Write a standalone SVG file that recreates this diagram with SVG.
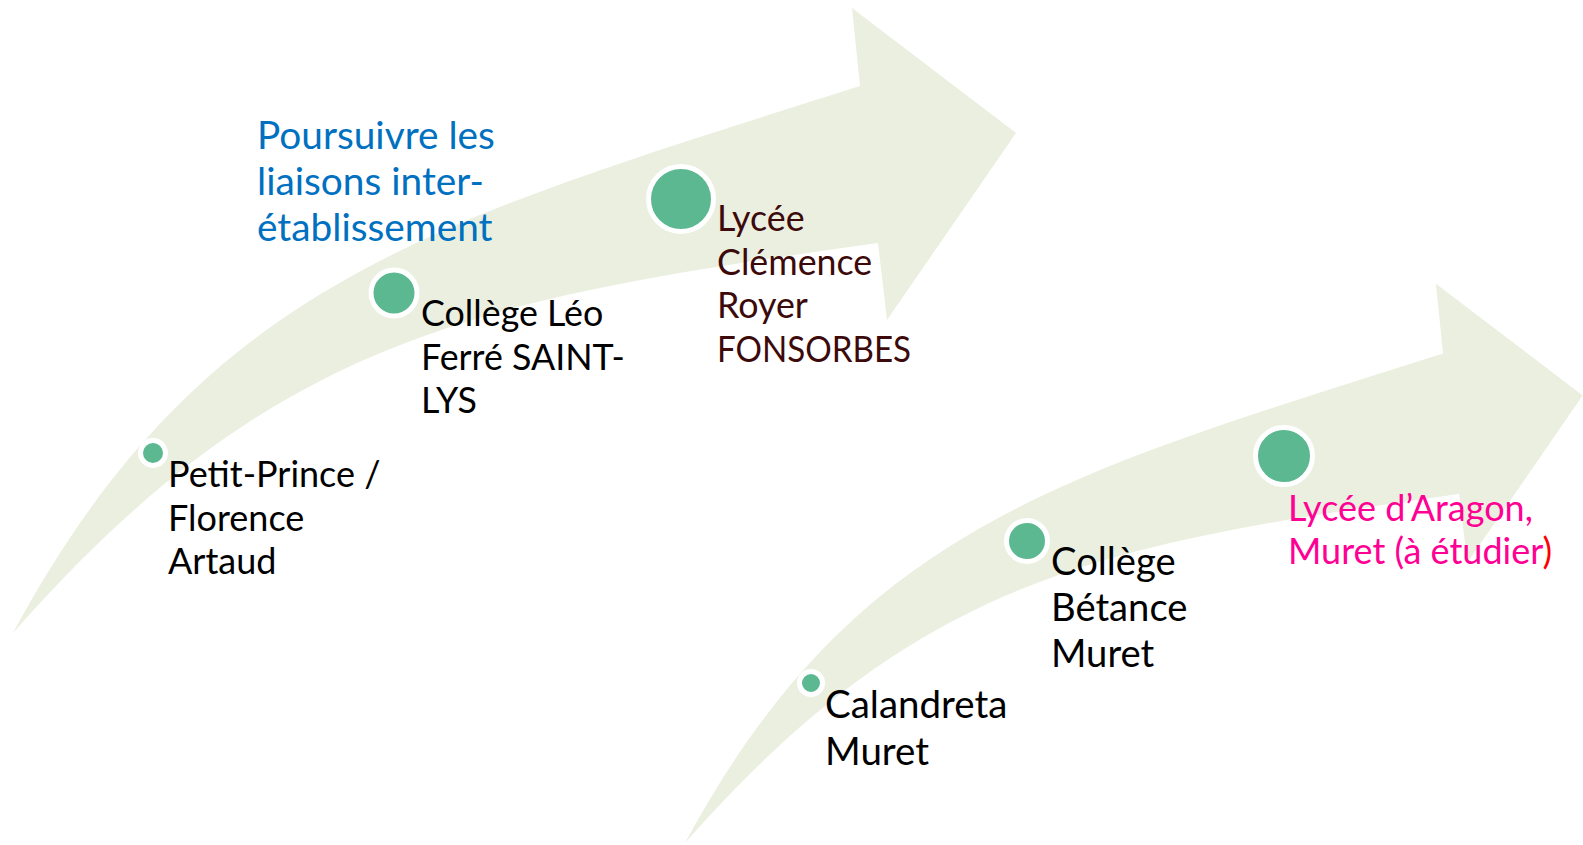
<svg xmlns="http://www.w3.org/2000/svg" xmlns:xlink="http://www.w3.org/1999/xlink" width="1583" height="845" viewBox="0 0 1583 845">
  <defs>
    <style>
      .band { fill: #EBEFDF; stroke: none; }
      .dot { fill: #5CB891; stroke: #FFFFFF; stroke-width: 5; }
      .lbl { font-family: Lato, "Liberation Sans", sans-serif; fill: #000000; }
      .blue { fill: #0070C0; }
      .brown { fill: #3C0A0A; }
      .pink { fill: #FF0094; }
      .red { fill: #FF0000; }
    </style>
    <path id="arrowShape" d="M13,633 C203,281 432,222 860,86 L852,8 L1016,133 L887,320 L878,243 C482,299 277,333 13,633 Z"/>
  </defs>
  <rect width="1583" height="845" fill="#FFFFFF"/>

  <g id="connectors">
    <use xlink:href="#arrowShape" class="band"/>
    <use xlink:href="#arrowShape" class="band" transform="translate(685,843) scale(0.895) translate(-13,-633)"/>
  </g>

  <g id="title">
    <text class="lbl blue" font-size="38.8">
      <tspan x="257" y="148.5">Poursuivre les</tspan>
      <tspan x="257" y="194.5">liaisons inter-</tspan>
      <tspan x="257" y="240.5">établissement</tspan>
    </text>
  </g>

  <g id="node-petit-prince">
    <circle class="dot" cx="153" cy="453" r="12.5"/>
    <text class="lbl" font-size="36">
      <tspan x="168" y="487">Petit-Prince /</tspan>
      <tspan x="168" y="530.5">Florence</tspan>
      <tspan x="168" y="574">Artaud</tspan>
    </text>
  </g>

  <g id="node-college-leo">
    <circle class="dot" cx="394" cy="293" r="23"/>
    <text class="lbl" font-size="35.8">
      <tspan x="421" y="326">Collège Léo</tspan>
      <tspan x="421" y="370">Ferré SAINT-</tspan>
      <tspan x="421" y="413">LYS</tspan>
    </text>
  </g>

  <g id="node-lycee-clemence">
    <circle class="dot" cx="681" cy="199" r="32.5"/>
    <text class="lbl brown" font-size="35.8">
      <tspan x="717" y="231">Lycée</tspan>
      <tspan x="717" y="274.5">Clémence</tspan>
      <tspan x="717" y="318">Royer</tspan>
      <tspan x="717" y="361.5" textLength="194" lengthAdjust="spacingAndGlyphs">FONSORBES</tspan>
    </text>
  </g>

  <g id="node-calandreta">
    <circle class="dot" cx="811" cy="683" r="11.5"/>
    <text class="lbl" font-size="38.5">
      <tspan x="825" y="718">Calandreta</tspan>
      <tspan x="825" y="765">Muret</tspan>
    </text>
  </g>

  <g id="node-college-betance">
    <circle class="dot" cx="1027" cy="541" r="20.5"/>
    <text class="lbl" font-size="38.2">
      <tspan x="1051" y="575">Collège</tspan>
      <tspan x="1051" y="621">Bétance</tspan>
      <tspan x="1051" y="667">Muret</tspan>
    </text>
  </g>

  <g id="node-lycee-aragon">
    <circle class="dot" cx="1284" cy="456" r="28.5"/>
    <text class="lbl pink" font-size="36">
      <tspan x="1288" y="521">Lycée d’Aragon,</tspan>
      <tspan x="1288" y="564">Muret (à étudier<tspan class="red">)</tspan></tspan>
    </text>
  </g>
</svg>
